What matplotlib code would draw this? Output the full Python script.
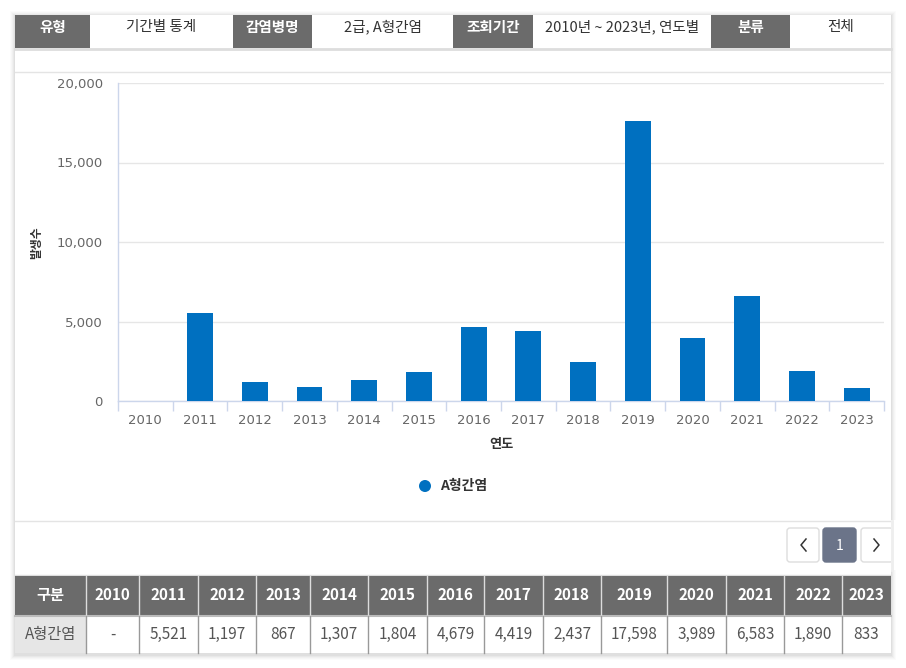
import matplotlib
matplotlib.use("Agg")
import matplotlib.pyplot as plt
from matplotlib.patches import Rectangle, FancyBboxPatch, Circle
from matplotlib.ticker import FuncFormatter, FixedLocator

plt.rcParams['font.family'] = ['Noto Sans CJK KR', 'DejaVu Sans']

# ---------------- data ----------------
years = ['2010', '2011', '2012', '2013', '2014', '2015', '2016',
         '2017', '2018', '2019', '2020', '2021', '2022', '2023']
cases = [0, 5521, 1197, 867, 1307, 1804, 4679, 4419, 2437, 17598, 3989, 6583, 1890, 833]
table_labels = ['-', '5,521', '1,197', '867', '1,307', '1,804', '4,679', '4,419',
                '2,437', '17,598', '3,989', '6,583', '1,890', '833']
series_name = 'A형간염'
y_ticks = [0, 5000, 10000, 15000, 20000]
header_keys = ['유형', '감염병명', '조회기간', '분류']
header_vals = ['기간별 통계', '2급, A형간염', '2010년 ~ 2023년, 연도별', '전체']
x_title = '연도'
y_title = '발생수'
row_head = '구분'

W, H = 906, 668
fig = plt.figure(figsize=(W / 100, H / 100), dpi=100)
fig.patch.set_facecolor('white')

bg = fig.add_axes([0, 0, 1, 1])
bg.set_xlim(0, W)
bg.set_ylim(H, 0)
bg.axis('off')

GRAY = '#6b6b6b'
L, R, T, B = 15, 891, 15, 653

# card shadow
for i, a in enumerate([0.035, 0.03, 0.025, 0.02, 0.015]):
    d = i + 1
    bg.add_patch(Rectangle((L - d, T - d + 1), (R - L) + 2 * d, (B - T) + 2 * d + 1,
                           facecolor='black', alpha=a, edgecolor='none', zorder=0))
bg.add_patch(Rectangle((L, T), R - L, B - T, facecolor='white', edgecolor='none', zorder=1))

# top header row
hdr_edges = [15, 90, 233, 312, 453, 533, 711, 790, 891]
for k in range(4):
    x0, x1, x2 = hdr_edges[2 * k], hdr_edges[2 * k + 1], hdr_edges[2 * k + 2]
    bg.add_patch(Rectangle((x0, 15), x1 - x0, 33, facecolor=GRAY, edgecolor='none', zorder=2))
    bg.text((x0 + x1) / 2, 27, header_keys[k], color='white', fontsize=10.5,
            fontweight='bold', ha='center', va='center', zorder=3)
    bg.text((x1 + x2) / 2, 27, header_vals[k], color='#333333', fontsize=10.5,
            ha='center', va='center', zorder=3)
bg.plot([L, R], [49, 49], color='#dddddd', lw=2, zorder=2)
bg.plot([L, R], [72, 72], color='#e4e4e4', lw=1, zorder=2)
bg.plot([L, R], [521, 521], color='#e4e4e4', lw=1, zorder=2)

# chart axes
px_l, px_r, px_t, px_b = 118, 884, 83, 401
ax = fig.add_axes([px_l / W, (H - px_b) / H, (px_r - px_l) / W, (px_b - px_t) / H])
ax.set_facecolor('none')
xs = list(range(len(years)))
ax.bar(xs, cases, width=0.475, color='#0070c0', zorder=3)
ax.set_xlim(-0.5, len(years) - 0.5)
ax.set_ylim(0, 20000)
ax.set_yticks(y_ticks)
ax.yaxis.set_major_formatter(FuncFormatter(lambda v, p: f'{int(v):,}'))
ax.grid(axis='y', color='#e6e6e6', lw=1, zorder=0)
for s in ['top', 'right']:
    ax.spines[s].set_visible(False)
for s in ['left', 'bottom']:
    ax.spines[s].set_color('#ccd6eb')
    ax.spines[s].set_linewidth(1)
ax.tick_params(axis='y', length=0, pad=11, labelsize=9.5, labelcolor='#666666')
ax.set_xticks(xs)
ax.set_xticklabels(years, fontfamily='DejaVu Sans')
for lab in ax.get_yticklabels():
    lab.set_fontfamily('DejaVu Sans')
ax.tick_params(axis='x', which='major', length=0, pad=9, labelsize=9.5, labelcolor='#666666')
ax.xaxis.set_minor_locator(FixedLocator([i - 0.5 for i in range(len(years) + 1)]))
ax.tick_params(axis='x', which='minor', length=7.5, width=1, color='#ccd6eb')

# axis titles
bg.text(501, 444, x_title, fontsize=9.5, fontweight='bold', color='#333333',
        ha='center', va='center', zorder=3)
bg.text(37, 243, y_title, fontsize=8.5, fontweight='bold', color='#333333',
        ha='center', va='center', rotation=90, zorder=3)

# legend
bg.add_patch(Circle((425, 486), 6, facecolor='#0070c0', edgecolor='none', zorder=3))
bg.text(440, 486, series_name, fontsize=10, fontweight='bold', color='#333333',
        ha='left', va='center', zorder=3)

# pagination
for (x0, x1), fc, ec in [((787, 819), 'white', '#dddddd'),
                         ((823, 856), '#6b7489', '#6b7489'),
                         ((861, 893), 'white', '#dddddd')]:
    bg.add_patch(FancyBboxPatch((x0 + 2, 530), x1 - x0 - 4, 30,
                                boxstyle='round,pad=2,rounding_size=3',
                                facecolor=fc, edgecolor=ec, lw=1, zorder=3))
bg.text(839.5, 546, '1', color='white', fontsize=10, ha='center', va='center', zorder=4)
bg.plot([806, 801, 806], [539, 545, 551], color='#333333', lw=1.1, zorder=4)
bg.plot([874, 879, 874], [539, 545, 551], color='#333333', lw=1.1, zorder=4)
# card right edge covers overflow
bg.add_patch(Rectangle((R, 520), 20, 50, facecolor='white', edgecolor='none', zorder=5))
bg.plot([R + 1, R + 1], [521, 570], color='#eeeeee', lw=2, zorder=5)

# data table
col_edges = [15, 86, 139, 198, 256, 310, 368, 427, 484, 543, 601, 667, 726, 784, 842, 891]
h_top, h_bot, d_bot = 576, 616, 653
bg.plot([L, R], [h_top - 1, h_top - 1], color='#dddddd', lw=1, zorder=2)
bg.add_patch(Rectangle((L, h_top), R - L, h_bot - h_top, facecolor=GRAY,
                       edgecolor='none', zorder=2))
bg.add_patch(Rectangle((col_edges[0], h_bot), col_edges[1] - col_edges[0], d_bot - h_bot,
                       facecolor='#e6e6e6', edgecolor='none', zorder=2))
bg.plot([L, R], [h_bot, h_bot], color='#bbbbbb', lw=1.5, zorder=3)
for xe in col_edges[1:-1]:
    bg.plot([xe, xe], [h_top, h_bot], color='#dddddd', lw=1, zorder=3)
    bg.plot([xe, xe], [h_bot, d_bot], color='#999999', lw=1, zorder=3)
heads = [row_head] + years
vals = [series_name] + table_labels
for i in range(len(heads)):
    cx = (col_edges[i] + col_edges[i + 1]) / 2
    bg.text(cx, (h_top + h_bot) / 2 - 1, heads[i], color='white', fontsize=11,
            fontweight='bold', ha='center', va='center', zorder=4)
    bg.text(cx, (h_bot + d_bot) / 2, vals[i], color='#555555', fontsize=11,
            ha='center', va='center', zorder=4)

fig.savefig('out.png', dpi=100, facecolor='white')
